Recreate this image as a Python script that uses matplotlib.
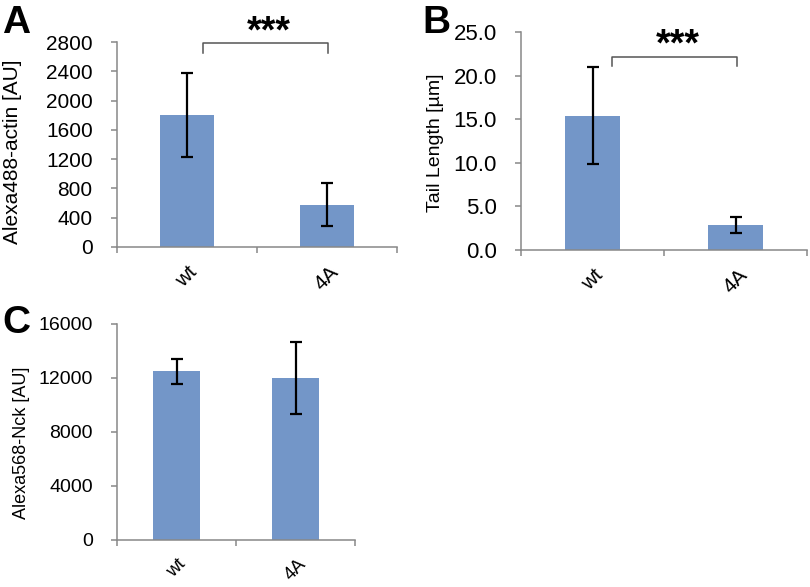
import matplotlib.pyplot as plt
import numpy as np

plt.rcParams['font.family'] = ['Liberation Sans', 'DejaVu Sans']

W, H = 810, 587

groups = ['wt', '4A']

# panel A: actin intensity
actin_mean = [1800, 580]
actin_err = [575, 290]

# panel B: tail length
tail_mean = [15.4, 2.9]
tail_err = [5.55, 0.92]

# panel C: Nck intensity
nck_mean = [12500, 12000]
nck_err = [940, 2640]

bar_color = '#7396c8'
axis_color = '#888888'


def px_axes(left, top, right, bottom):
    return [left / W, 1 - bottom / H, (right - left) / W, (bottom - top) / H]


def bar_panel(rect, means, errs, ylim, yticks, fmt, tick_size, xtick_size):
    ax = fig.add_axes(px_axes(*rect))
    x = np.arange(len(groups))
    ax.bar(x, means, width=0.39, color=bar_color, zorder=2)
    ax.errorbar(x, means, yerr=errs, fmt='none', ecolor='black',
                elinewidth=1.6, capsize=4.5, capthick=1.6, zorder=3)
    ax.set_xlim(-0.5, len(groups) - 0.5)
    ax.set_ylim(*ylim)
    ax.set_yticks(yticks)
    ax.set_yticklabels([fmt.format(v) for v in yticks])
    ax.set_xticks(x)
    ax.set_xticklabels(groups, rotation=45, ha='center')
    ax.set_xticks(np.arange(len(groups) + 1) - 0.5, minor=True)
    for s in ['top', 'right']:
        ax.spines[s].set_visible(False)
    for s in ['left', 'bottom']:
        ax.spines[s].set_color(axis_color)
        ax.spines[s].set_linewidth(1.1)
    ax.tick_params(axis='y', direction='out', length=4.5, width=1.1,
                   color=axis_color, labelsize=tick_size, pad=13)
    ax.tick_params(axis='x', which='major', length=0, labelsize=xtick_size, pad=11)
    ax.tick_params(axis='x', which='minor', direction='out', length=4.5,
                   width=1.1, color=axis_color)
    return ax


def bracket(ax, x0, x1, y_top, y_foot, y_star):
    ax.plot([x0, x0, x1, x1], [y_foot, y_top, y_top, y_foot], color='#555555',
            lw=1.1, clip_on=False)
    ax.text((x0 + x1) / 2 + 0.02, y_star, '***', ha='center', va='center',
            fontsize=27, fontweight='bold')


fig = plt.figure(figsize=(W / 100, H / 100), dpi=100)

axA = bar_panel((117, 42, 397, 247), actin_mean, actin_err, (0, 2800),
                np.arange(0, 2801, 400), '{:.0f}', 15, 15)
bracket(axA, 0.114, 1.007, 2790, 2654, 2925)

axB = bar_panel((521, 32, 807, 250), tail_mean, tail_err, (0, 25),
                np.arange(0, 25.1, 5), '{:.1f}', 16, 15)
bracket(axB, 0.136, 1.01, 22.14, 21.1, 23.5)

axC = bar_panel((117, 324, 355, 540), nck_mean, nck_err, (0, 16000),
                np.arange(0, 16001, 4000), '{:.0f}', 14, 13.5)

fig.text(13 / W, 1 - 152 / H, 'Alexa488-actin [AU]', rotation=90,
         ha='center', va='center', fontsize=15)
fig.text(435 / W, 1 - 143 / H, 'Tail Length [µm]', rotation=90,
         ha='center', va='center', fontsize=14)
fig.text(22 / W, 1 - 443 / H, 'Alexa568-Nck [AU]', rotation=90,
         ha='center', va='center', fontsize=13)

for lbl, x, y in [('A', 2, 33), ('B', 422, 33), ('C', 2, 333)]:
    fig.text(x / W, 1 - y / H, lbl, ha='left', va='baseline',
             fontsize=28, fontweight='bold')

fig.savefig('out.png', dpi=100)
